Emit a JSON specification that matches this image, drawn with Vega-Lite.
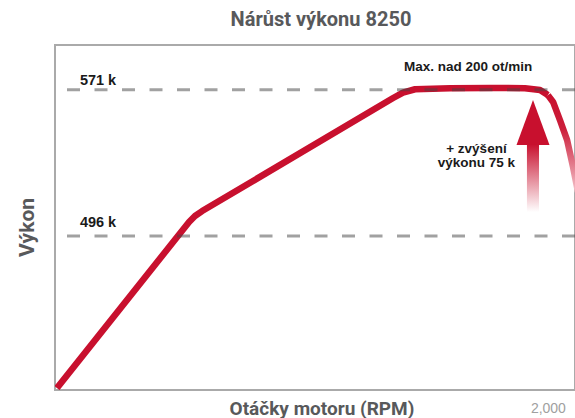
{
  "$schema": "https://vega.github.io/schema/vega-lite/v6.json",
  "width": 520,
  "height": 345,
  "autosize": {"type": "none"},
  "padding": {"left": 55, "top": 45, "right": 0, "bottom": 28},
  "background": "white",
  "config": {"view": {"stroke": "#aaaaaa", "strokeWidth": 2}, "font": "Roboto"},
  "title": {"text": "Nárůst výkonu 8250", "font": "Roboto", "fontSize": 20, "fontWeight": "bold", "color": "#58595b", "anchor": "middle", "dx": 6, "baseline": "alphabetic", "offset": 18, "dy": 19},
  "datasets": {
    "curve": [
      {"seg": "main", "rpm": 8, "k": 418.0},
      {"seg": "main", "rpm": 544, "k": 503.2},
      {"seg": "main", "rpm": 568, "k": 506.3},
      {"seg": "main", "rpm": 597, "k": 508.8},
      {"seg": "main", "rpm": 1372, "k": 566.8},
      {"seg": "main", "rpm": 1412, "k": 569.6},
      {"seg": "main", "rpm": 1461, "k": 571.3},
      {"seg": "main", "rpm": 1603, "k": 571.8},
      {"seg": "main", "rpm": 1765, "k": 572.0},
      {"seg": "main", "rpm": 1907, "k": 571.8},
      {"seg": "main", "rpm": 1968, "k": 570.9},
      {"seg": "main", "rpm": 2000, "k": 568.3},
      {"seg": "drop", "rpm": 2000, "k": 568.3},
      {"seg": "drop", "rpm": 2021, "k": 564.8},
      {"seg": "drop", "rpm": 2049, "k": 555.5},
      {"seg": "drop", "rpm": 2078, "k": 545.2},
      {"seg": "drop", "rpm": 2102, "k": 531.4},
      {"seg": "drop", "rpm": 2122, "k": 518.6}
    ],
    "refs": [
      {"k": 571, "label": "571 k", "rpm": 101},
      {"k": 496, "label": "496 k", "rpm": 101}
    ],
    "shaft": [{"x1": 1915, "x2": 1964, "top": 543.2, "bottom": 508.3}],
    "head": [{"rpm": 1939.6, "k": 554.2}],
    "notes": [
      {"rpm": 1676, "k": 580.7, "text": "Max. nad 200 ot/min"},
      {"rpm": 1710, "k": 538.6, "text": "+ zvýšení\nvýkonu 75 k"}
    ]
  },
  "layer": [
    {
      "data": {"name": "curve"},
      "transform": [{"filter": "datum.seg === 'main'"}],
      "mark": {"type": "line", "color": "#c8102e", "strokeWidth": 6.5, "strokeJoin": "round", "clip": true},
      "encoding": {
        "x": {"field": "rpm", "type": "quantitative", "scale": {"domain": [0, 2110], "nice": false, "zero": false},
          "axis": {"values": [2000], "format": ",.0f", "ticks": false, "domain": false, "grid": false,
            "labelColor": "#a0a0a0", "labelFont": "Liberation Sans", "labelFontSize": 14, "labelPadding": 22, "labelBaseline": "alphabetic",
            "title": "Otáčky motoru (RPM)", "titleFont": "Roboto", "titleFontSize": 19, "titleFontWeight": "bold", "titleColor": "#58595b",
            "titleX": 266.5, "titleY": 24, "titleBaseline": "alphabetic", "titleAlign": "center"}},
        "y": {"field": "k", "type": "quantitative", "scale": {"domain": [417, 594], "nice": false, "zero": false},
          "axis": {"labels": false, "ticks": false, "domain": false, "grid": false,
            "title": "Výkon", "titleFont": "Roboto", "titleFontSize": 21, "titleFontWeight": "bold", "titleColor": "#58595b",
            "titleAngle": 270, "titleX": -22, "titleY": 182, "titleBaseline": "alphabetic", "titleAlign": "center"}}
      }
    },
    {
      "data": {"name": "curve"},
      "transform": [{"filter": "datum.seg === 'drop'"}],
      "mark": {"type": "line", "strokeWidth": 6.5, "strokeJoin": "round", "clip": true,
        "stroke": {"gradient": "linear", "x1": 0, "y1": 0, "x2": 0, "y2": 1,
          "stops": [{"offset": 0, "color": "#c8102e"}, {"offset": 0.35, "color": "#cc1f3b"}, {"offset": 1, "color": "#f4c2ca"}]}},
      "encoding": {
        "x": {"field": "rpm", "type": "quantitative", "scale": {"domain": [0, 2110], "nice": false, "zero": false}},
        "y": {"field": "k", "type": "quantitative", "scale": {"domain": [417, 594], "nice": false, "zero": false}}
      }
    },
    {
      "data": {"name": "shaft"},
      "mark": {"type": "bar", "fill": {"gradient": "linear", "x1": 0, "y1": 0, "x2": 0, "y2": 1,
        "stops": [{"offset": 0, "color": "#c8102e"}, {"offset": 1, "color": "#ffffff"}]}},
      "encoding": {
        "x": {"field": "x1", "type": "quantitative", "scale": {"domain": [0, 2110], "nice": false, "zero": false}},
        "x2": {"field": "x2"},
        "y": {"field": "top", "type": "quantitative", "scale": {"domain": [417, 594], "nice": false, "zero": false}},
        "y2": {"field": "bottom"}
      }
    },
    {
      "data": {"name": "head"},
      "mark": {"type": "point", "shape": "M0,-1.364L1,1.364L-1,1.364Z", "size": 1089, "filled": true, "fill": "#c8102e", "opacity": 1, "strokeWidth": 0},
      "encoding": {
        "x": {"field": "rpm", "type": "quantitative", "scale": {"domain": [0, 2110], "nice": false, "zero": false}},
        "y": {"field": "k", "type": "quantitative", "scale": {"domain": [417, 594], "nice": false, "zero": false}}
      }
    },
    {
      "data": {"name": "refs"},
      "mark": {"type": "rule", "color": "#444444", "opacity": 0.5, "strokeWidth": 3, "strokeDash": [13, 14.5]},
      "encoding": {
        "y": {"field": "k", "type": "quantitative", "scale": {"domain": [417, 594], "nice": false, "zero": false}}
      }
    },
    {
      "data": {"name": "refs"},
      "transform": [{"filter": "datum.k === 571"}],
      "mark": {"type": "text", "font": "Liberation Sans", "fontSize": 14.5, "fontWeight": "bold", "color": "#1a1a1a", "align": "left", "baseline": "alphabetic", "dy": -5},
      "encoding": {
        "x": {"field": "rpm", "type": "quantitative", "scale": {"domain": [0, 2110], "nice": false, "zero": false}},
        "y": {"field": "k", "type": "quantitative", "scale": {"domain": [417, 594], "nice": false, "zero": false}},
        "text": {"field": "label"}
      }
    },
    {
      "data": {"name": "refs"},
      "transform": [{"filter": "datum.k === 496"}],
      "mark": {"type": "text", "font": "Liberation Sans", "fontSize": 14.5, "fontWeight": "bold", "color": "#1a1a1a", "align": "left", "baseline": "alphabetic", "dy": -9},
      "encoding": {
        "x": {"field": "rpm", "type": "quantitative", "scale": {"domain": [0, 2110], "nice": false, "zero": false}},
        "y": {"field": "k", "type": "quantitative", "scale": {"domain": [417, 594], "nice": false, "zero": false}},
        "text": {"field": "label"}
      }
    },
    {
      "data": {"name": "notes"},
      "mark": {"type": "text", "font": "Liberation Sans", "fontSize": 13.5, "fontWeight": "bold", "color": "#1a1a1a", "align": "center", "baseline": "alphabetic", "lineBreak": "\n", "lineHeight": 14},
      "encoding": {
        "x": {"field": "rpm", "type": "quantitative", "scale": {"domain": [0, 2110], "nice": false, "zero": false}},
        "y": {"field": "k", "type": "quantitative", "scale": {"domain": [417, 594], "nice": false, "zero": false}},
        "text": {"field": "text"}
      }
    }
  ]
}
